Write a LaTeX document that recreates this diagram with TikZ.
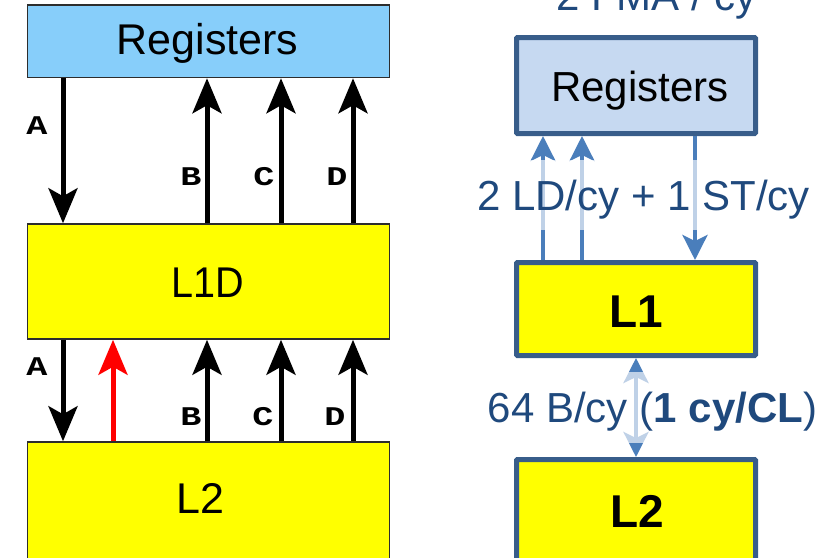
\documentclass[tikz,border=0pt]{standalone}
\usepackage{fontspec}
\setmainfont{Liberation Sans}
\newfontfamily\labelmono{Liberation Mono}
\usetikzlibrary{arrows.meta}

\definecolor{regblue}{RGB}{135,206,250}
\definecolor{hwyellow}{RGB}{255,255,0}
\definecolor{edgegray}{RGB}{45,45,45}
\definecolor{boxedge}{RGB}{56,93,138}
\definecolor{regpale}{RGB}{198,217,241}
\definecolor{flowblue}{RGB}{74,126,187}
\definecolor{ratetext}{RGB}{31,73,125}

\tikzset{
  lhead/.tip={Stealth[length=35pt,width=29pt,inset=8pt]},
  rhead/.tip={Stealth[length=25pt,width=25pt,inset=6pt]}
}

\begin{document}
\begin{tikzpicture}[x=1pt,y=-1pt,
  % left: cache hierarchy with labelled transfers
  lbox/.style={draw=edgegray, line width=1.5pt, inner sep=0pt, minimum width=362pt},
  ltext/.style={font=\fontsize{43}{50}\selectfont, anchor=base, inner sep=0pt},
  tag/.style={font=\labelmono\bfseries\fontsize{27}{30}\selectfont, inner sep=0pt},
  larrow/.style={line width=5pt, -{lhead}},
  % right: bandwidth figures
  rbox/.style={draw=boxedge, line width=5pt, inner sep=0pt, minimum width=239pt, rounded corners=1pt},
  rname/.style={font=\fontsize{42}{50}\selectfont, anchor=base, inner sep=0pt},
  rlevel/.style={font=\bfseries\fontsize{46}{54}\selectfont, anchor=base, inner sep=0pt},
  rate/.style={font=\fontsize{42}{50}\selectfont, text=ratetext, anchor=base, inner sep=0pt},
  rarrow/.style={draw=flowblue, fill=flowblue, line width=4pt, -{rhead}},
  haze/.style={fill=white, fill opacity=0.65}
]
\useasboundingbox (0,0) rectangle (835,557);

% ---------------- left column ----------------
\node[lbox, fill=regblue,  minimum height=72.5pt] (reg1) at (208.25,41.25) {};
\node[lbox, fill=hwyellow, minimum height=115pt]  (l1d)  at (208.25,281.5) {};
\node[lbox, fill=hwyellow, minimum height=140pt]  (l2a)  at (208.25,512) {};

\node[ltext] (reg1txt) at (207.5,54)  {Registers};
\node[ltext] (l1dtxt)  at (207.5,297) {\scalebox{0.92}[1]{L1D}};
\node[ltext] (l2atxt)  at (200.5,513) {L2};

\coordinate (xa) at (63,0);
\coordinate (xr) at (113,0);
\coordinate (xb) at (207,0);
\coordinate (xc) at (281,0);
\coordinate (xd) at (353,0);

\draw[larrow] (reg1.south -| xa) -- (l1d.north -| xa);
\draw[larrow] (l1d.north -| xb) -- (reg1.south -| xb);
\draw[larrow] (l1d.north -| xc) -- (reg1.south -| xc);
\draw[larrow] (l1d.north -| xd) -- (reg1.south -| xd);

\draw[larrow] (l1d.south -| xa) -- (l2a.north -| xa);
\draw[larrow, red] (l2a.north -| xr) -- (l1d.south -| xr);
\draw[larrow] (l2a.north -| xb) -- (l1d.south -| xb);
\draw[larrow] (l2a.north -| xc) -- (l1d.south -| xc);
\draw[larrow] (l2a.north -| xd) -- (l1d.south -| xd);

\node[tag] (ta1) at (37,126) {\scalebox{1.3}[1]{A}};
\node[tag] (tb1) at (191,177) {\scalebox{1.3}[1]{B}};
\node[tag] (tc1) at (264,177) {\scalebox{1.3}[1]{C}};
\node[tag] (td1) at (337,177) {\scalebox{1.3}[1]{D}};
\node[tag] (ta2) at (37,367) {\scalebox{1.3}[1]{A}};
\node[tag] (tb2) at (191,417) {\scalebox{1.3}[1]{B}};
\node[tag] (tc2) at (263,417) {\scalebox{1.3}[1]{C}};
\node[tag] (td2) at (335,417) {\scalebox{1.3}[1]{D}};

% ---------------- right column ----------------
\node[rbox, fill=regpale,  minimum height=96pt]  (reg2) at (636,85.5) {};
\node[rbox, fill=hwyellow, minimum height=93pt]  (l1b)  at (636,309) {};
\node[rbox, fill=hwyellow, minimum height=120pt] (l2b)  at (636,519.5) {};

\node[rname]  (reg2txt) at (640,101)   {Registers};
\node[rlevel] (l1btxt)  at (636,327)   {L1};
\node[rlevel] (l2btxt)  at (637.5,527) {L2};

\coordinate (xe) at (543,0);
\coordinate (xf) at (582,0);
\coordinate (xg) at (695,0);
\coordinate (xh) at (636,0);

\draw[rarrow] (l1b.north -| xe) -- (reg2.south -| xe);
\draw[rarrow] (l1b.north -| xf) -- (reg2.south -| xf);
\draw[rarrow] (reg2.south -| xg) -- (l1b.north -| xg);
\draw[rarrow, {rhead}-{rhead}] (l1b.south -| xh) -- (l2b.north -| xh);

% translucent backing behind the rate labels
\fill[haze] (468,160) rectangle (818,230);
\fill[haze] (480,372) rectangle (825,443);

\node[rate] (fma)  at (656.5,10)  {2 FMA / cy};
\node[rate] (ldst) at (643.5,210) {2 LD/cy + 1 ST/cy};
\node[rate] (l1l2) at (652.5,422) {64 B/cy (\textbf{1 cy/CL})};

\end{tikzpicture}
\end{document}
